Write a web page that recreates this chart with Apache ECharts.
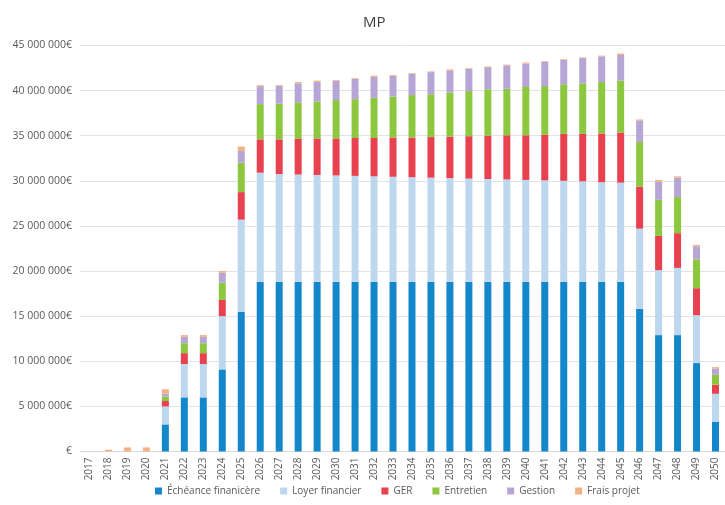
<!DOCTYPE html>
<html>
<head>
<meta charset="utf-8">
<script src="https://cdn.jsdelivr.net/npm/echarts@6/dist/echarts.min.js"></script>
<style>html,body{margin:0;padding:0;background:#fff;}#c{width:725px;height:505px;}</style>
</head>
<body>
<div id="c"></div>
<script>
// values in millions of euros
const years = ['2017','2018','2019','2020','2021','2022','2023','2024','2025','2026','2027','2028','2029','2030','2031','2032','2033','2034','2035','2036','2037','2038','2039','2040','2041','2042','2043','2044','2045','2046','2047','2048','2049','2050'];
const echeance = [0,0,0,0,3.0,6.0,6.0,9.1,15.5,18.8,18.8,18.8,18.8,18.8,18.8,18.8,18.8,18.8,18.8,18.8,18.8,18.8,18.8,18.8,18.8,18.8,18.8,18.8,18.8,15.8,12.9,12.9,9.8,3.3];
const loyer = [0,0,0,0,2.0,3.7,3.7,5.9,10.2,12.1,11.95,11.9,11.85,11.8,11.75,11.7,11.65,11.6,11.55,11.5,11.45,11.4,11.35,11.3,11.25,11.2,11.15,11.05,11.0,8.9,7.2,7.45,5.3,3.1];
const ger = [0,0,0,0,0.6,1.2,1.2,1.8,3.05,3.7,3.85,3.95,4.05,4.1,4.2,4.25,4.35,4.4,4.5,4.6,4.7,4.8,4.9,4.95,5.05,5.2,5.25,5.4,5.55,4.65,3.8,3.85,3.0,1.0];
const entretien = [0,0,0,0,0.5,1.1,1.1,1.9,3.25,3.9,3.95,4.05,4.1,4.25,4.3,4.45,4.55,4.7,4.75,4.9,5.0,5.15,5.15,5.35,5.4,5.5,5.6,5.7,5.75,4.95,4.0,4.0,3.2,1.1];
const gestion = [0,0,0,0,0.3,0.7,0.7,1.1,1.3,2.0,2.0,2.1,2.15,2.15,2.25,2.3,2.3,2.35,2.45,2.4,2.45,2.45,2.6,2.6,2.7,2.7,2.8,2.85,2.85,2.4,2.0,2.15,1.45,0.7];
const frais = [0,0.2,0.45,0.45,0.5,0.2,0.2,0.2,0.5,0.1,0.08,0.15,0.15,0.08,0.08,0.15,0.08,0.08,0.08,0.15,0.08,0.08,0.08,0.12,0.08,0.08,0.08,0.08,0.15,0.1,0.2,0.15,0.15,0.15];
const seriesNames = ['Échéance finanicère','Loyer financier','GER','Entretien','Gestion','Frais projet'];
const seriesData = [echeance, loyer, ger, entretien, gestion, frais];
const colors = ['#1487CB','#BDD7EE','#E8414F','#8DC63F','#B6A6D6','#F5B183'];

function fmt(v){
  if (v === 0) return '€';
  const n = Math.round(v * 1000000);
  return String(n).replace(/\B(?=(\d{3})+(?!\d))/g, ' ') + '€';
}

const chart = echarts.init(document.getElementById('c'), null, {renderer:'canvas'});
chart.setOption({
  animation: false,
  backgroundColor: '#fff',
  color: colors,
  title: {
    text: 'MP', left: 358, top: 10,
    textStyle: {fontFamily: 'Open Sans', fontSize: 15, fontWeight: 'normal', color: '#404040'}
  },
  legend: {
    data: seriesNames, left: 150, top: 481,
    itemWidth: 7, itemHeight: 7, itemGap: 20, icon: 'rect',
    textStyle: {fontFamily: 'Open Sans', fontSize: 10, color: '#595959'}
  },
  grid: {left: 80, right: -2, top: 45.5, bottom: 53.5, containLabel: false},
  xAxis: {
    type: 'category', data: years,
    axisLine: {lineStyle: {color: '#d9d9d9'}},
    axisTick: {show: false},
    axisLabel: {rotate: 90, interval: 0, fontFamily: 'Open Sans', fontSize: 10, color: '#595959', margin: 6}
  },
  yAxis: {
    type: 'value', min: 0, max: 45, interval: 5,
    axisLine: {show: false}, axisTick: {show: false},
    splitLine: {lineStyle: {color: '#e3e3e3'}},
    axisLabel: {formatter: fmt, fontFamily: 'Open Sans', fontSize: 10.5, color: '#595959', margin: 8}
  },
  series: seriesNames.map((name, i) => ({
    name: name, type: 'bar', stack: 'total', barWidth: 7,
    data: seriesData[i],
    itemStyle: {color: colors[i]}
  }))
});
</script>
</body>
</html>
